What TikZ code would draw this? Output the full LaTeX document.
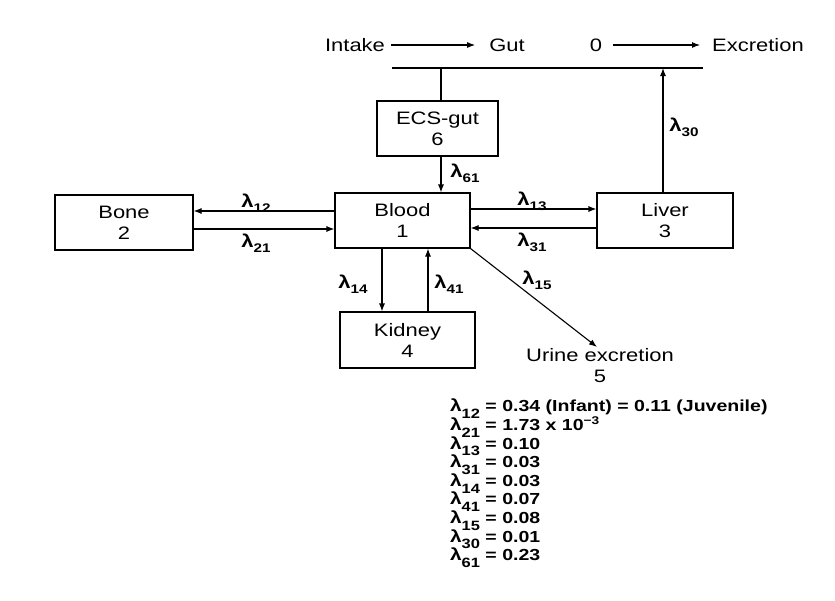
\documentclass[tikz,border=0pt]{standalone}
\usepackage{fontspec}
\setmainfont{Liberation Sans}[FakeStretch=1.22]
\usetikzlibrary{arrows.meta}
\newcommand\lam[1]{\textbf{λ}\raisebox{-0.55ex}{\fontsize{12.5}{12}\selectfont\bfseries #1}}
\newcommand\llam[1]{{\fontsize{17}{17}\selectfont\textbf{λ}}\raisebox{-0.8ex}{\fontsize{13.5}{13}\selectfont\bfseries #1}}
\newcommand\tightlines{\lineskiplimit=-30pt\relax\lineskip=0pt\relax}
\begin{document}
\begin{tikzpicture}[x=1pt,y=-1pt,
  box/.style={draw,line width=1.1pt,align=center,inner sep=0pt,font=\fontsize{18}{21}\selectfont},
  txt/.style={font=\fontsize{18}{21}\selectfont,inner sep=1pt},
  lab/.style={font=\fontsize{18}{18}\selectfont,inner sep=0pt},
  arr/.style={line width=1.1pt,-{Latex[length=8pt,width=6pt]}},
  ln/.style={line width=1.1pt}]
\useasboundingbox[fill=white] (0,0) rectangle (835,600);
% top row
\node[txt] (intake) at (355,45) {Intake};
\node[txt] (gut) at (507,45) {Gut};
\node[txt] (zero) at (596,45) {0};
\node[txt] (excr) at (758,45) {Excretion};
\draw[arr] ([xshift=5pt]intake.east) -- ([xshift=-13pt]gut.west);
\draw[arr] ([xshift=10pt]zero.east) -- ([xshift=-11pt]excr.west);
\coordinate (lL) at (392,68);
\coordinate (lR) at (703,68);
\draw[ln] (lL) -- (lR);
% boxes
\node[box,minimum width=121pt,minimum height=55pt] (ecs) at (437.5,128.5) {ECS-gut\\6};
\node[box,minimum width=135pt,minimum height=55pt] (blood) at (402.5,220.5) {Blood\\1};
\node[box,minimum width=138pt,minimum height=55pt] (bone) at (124,222.5) {Bone\\2};
\node[box,minimum width=136pt,minimum height=55pt] (liver) at (665,220.5) {Liver\\3};
\node[box,minimum width=135pt,minimum height=56pt] (kidney) at (407.5,340) {Kidney\\4};
\node[txt,anchor=north,align=center] (urine) at (600,347) {Urine excretion\\5};
% connectors
\draw[ln] ([xshift=3.5pt]ecs.north) -- ([xshift=3.5pt]ecs.north |- lL);
\draw[arr] ([xshift=3.5pt]ecs.south) -- ([xshift=3.5pt]ecs.south |- blood.north);
\draw[arr] ([yshift=9.5pt]blood.west) -- ([yshift=9.5pt]blood.west -| bone.east);
\draw[arr] ([yshift=-8.5pt]bone.east |- blood.west) -- ([yshift=-8.5pt]blood.west);
\draw[arr] ([yshift=11.5pt]blood.east) -- ([yshift=11.5pt]blood.east -| liver.west);
\draw[arr] ([yshift=-7.5pt]liver.west) -- ([yshift=-7.5pt]liver.west -| blood.east);
\draw[arr] ([xshift=-20.5pt]blood.south) -- ([xshift=-20.5pt]blood.south |- kidney.north);
\draw[arr] ([xshift=20.5pt]kidney.north) -- ([xshift=20.5pt]kidney.north |- blood.south);
\draw[arr] (blood.south east) -- ([xshift=-3pt]urine.north);
\draw[arr] ([xshift=-2pt]liver.north) -- ([xshift=-2pt]liver.north |- lL);
% labels
\node[lab] (l61) at (465,173) {\lam{61}};
\node[lab] (l12) at (256,203) {\lam{12}};
\node[lab] (l21) at (256,243) {\lam{21}};
\node[lab] (l13) at (532,201) {\lam{13}};
\node[lab] (l31) at (532,242) {\lam{31}};
\node[lab] (l14) at (353,284) {\lam{14}};
\node[lab] (l41) at (449,284) {\lam{41}};
\node[lab] (l15) at (537,280) {\lam{15}};
\node[lab] (l30) at (684,127) {\lam{30}};
% legend
\node[anchor=north west,align=left,inner sep=0pt,font=\fontsize{16}{18.6}\selectfont\bfseries\tightlines] (legend) at (450,399) {%
\llam{12} = 0.34 (Infant) = 0.11 (Juvenile)\\
\llam{21} = 1.73 x 10\textsuperscript{−3}\\
\llam{13} = 0.10\\
\llam{31} = 0.03\\
\llam{14} = 0.03\\
\llam{41} = 0.07\\
\llam{15} = 0.08\\
\llam{30} = 0.01\\
\llam{61} = 0.23};
\end{tikzpicture}
\end{document}
